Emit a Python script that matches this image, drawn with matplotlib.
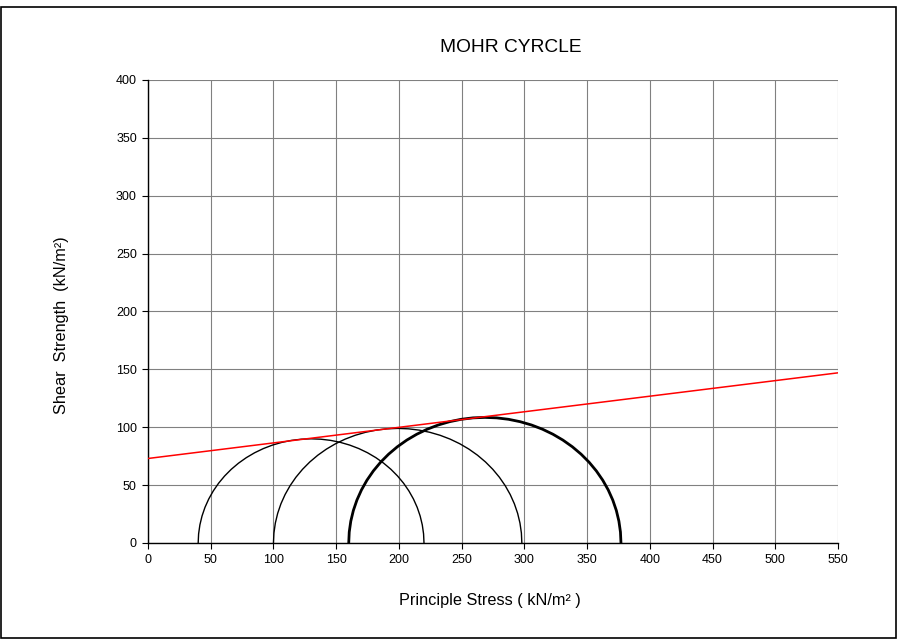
import numpy as np
import matplotlib.pyplot as plt
from matplotlib.patches import Rectangle

plt.rcParams['font.family'] = ['Liberation Sans', 'DejaVu Sans']

# minor / major principal stresses of the three tests (kN/m2)
sigma3 = [40, 100, 160]
sigma1 = [220, 298, 377]
line_widths = [1.0, 1.0, 2.0]

# failure envelope end points
env_x = [0, 550]
env_y = [73, 147]

fig = plt.figure(figsize=(8.98, 6.4), dpi=100)
ax = fig.add_axes([0.1648, 0.1516, 0.7684, 0.7234])

# outer frame round the whole chart
fig.patches.append(Rectangle((0.0015, 0.003), 0.996, 0.986, transform=fig.transFigure,
                             fill=False, edgecolor='black', linewidth=1.2))

theta = np.radians(np.linspace(180, 0, 37))
for s3, s1, lw in zip(sigma3, sigma1, line_widths):
    c = (s1 + s3) / 2
    r = (s1 - s3) / 2
    ax.plot(c + r * np.cos(theta), r * np.sin(theta), color='black', lw=lw,
            solid_joinstyle='round', zorder=3)

ax.plot(env_x, env_y, color='red', lw=1.1, zorder=4)

ax.set_xlim(0, 550)
ax.set_ylim(0, 400)
ax.set_xticks(np.arange(0, 551, 50))
ax.set_yticks(np.arange(0, 401, 50))
ax.grid(True, color='#808080', lw=0.8)
ax.set_axisbelow(True)
ax.spines['top'].set_visible(False)
ax.spines['right'].set_visible(False)
ax.spines['left'].set_linewidth(1.0)
ax.spines['bottom'].set_linewidth(1.0)
ax.tick_params(direction='out', length=4, width=0.8, labelsize=9, pad=4)

fig.text(0.569, 0.925, 'MOHR CYRCLE', ha='center', va='center', fontsize=13.8)
fig.text(0.545, 0.062, 'Principle Stress ( kN/m² )', ha='center', va='center', fontsize=11.7)
fig.text(0.069, 0.492, 'Shear  Strength  (kN/m²)', ha='center', va='center',
         rotation=90, fontsize=11.7)

fig.savefig('out.png', dpi=100)
